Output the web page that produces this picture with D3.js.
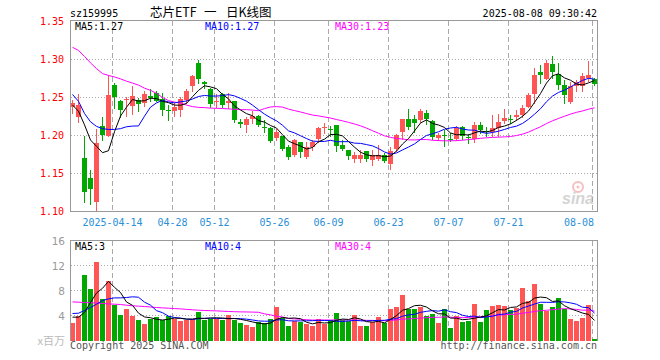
<!DOCTYPE html>
<html><head><meta charset="utf-8">
<script src="https://cdn.jsdelivr.net/npm/d3@7"></script>
<style>body{margin:0;background:#fff;} svg{display:block;}</style>
</head><body>
<svg id="c" width="660" height="360"></svg>
<script>
const dates = ["04-02","04-03","04-07","04-08","04-09","04-10","04-11","04-14","04-15","04-16","04-17","04-18","04-21","04-22","04-23","04-24","04-25","04-28","04-29","04-30",
"05-06","05-07","05-08","05-09","05-12","05-13","05-14","05-15","05-16","05-19","05-20","05-21","05-22","05-23","05-26","05-27","05-28","05-29","05-30",
"06-03","06-04","06-05","06-06","06-09","06-10","06-11","06-12","06-13","06-16","06-17","06-18","06-19","06-20","06-23","06-24","06-25","06-26","06-27","06-30",
"07-01","07-02","07-03","07-04","07-07","07-08","07-09","07-10","07-11","07-14","07-15","07-16","07-17","07-18","07-21","07-22","07-23","07-24","07-25","07-28","07-29","07-30","07-31",
"08-01","08-04","08-05","08-06","08-07","08-08"];
const open = [1.238,1.225,1.171,1.144,1.113,1.213,1.200,1.267,1.246,1.2475,1.239,1.247,1.243,1.252,1.256,1.248,1.2335,1.232,1.233,1.247,
1.265,1.296,1.271,1.261,1.245,1.254,1.243,1.246,1.218,1.214,1.222,1.226,1.2115,1.210,1.197,1.199,1.185,1.175,1.191,
1.172,1.185,1.195,1.2105,1.2088,1.214,1.188,1.181,1.169,1.169,1.179,1.168,1.169,1.175,1.162,1.182,1.204,1.222,1.222,1.221,
1.230,1.219,1.197,1.2002,1.1958,1.195,1.211,1.198,1.195,1.214,1.206,1.204,1.2097,1.219,1.2222,1.224,1.227,1.238,1.254,1.283,1.275,1.294,1.281,
1.266,1.244,1.2645,1.2645,1.2755,1.274];
const high = [1.247,1.254,1.200,1.155,1.208,1.225,1.279,1.269,1.247,1.251,1.265,1.249,1.258,1.261,1.258,1.256,1.240,1.243,1.251,1.261,
1.280,1.299,1.272,1.262,1.254,1.256,1.256,1.246,1.222,1.225,1.232,1.227,1.221,1.211,1.208,1.200,1.188,1.195,1.192,
1.192,1.194,1.211,1.217,1.213,1.214,1.194,1.181,1.178,1.181,1.179,1.181,1.188,1.177,1.185,1.202,1.222,1.235,1.227,1.235,
1.234,1.221,1.203,1.207,1.203,1.213,1.213,1.202,1.218,1.218,1.211,1.227,1.2285,1.235,1.227,1.234,1.240,1.256,1.289,1.293,1.300,1.305,1.296,
1.273,1.271,1.273,1.282,1.298,1.2755];
const low = [1.230,1.218,1.112,1.110,1.100,1.194,1.199,1.236,1.224,1.226,1.228,1.232,1.239,1.246,1.245,1.227,1.221,1.226,1.226,1.243,
1.259,1.269,1.262,1.237,1.238,1.237,1.236,1.218,1.211,1.205,1.217,1.213,1.205,1.192,1.194,1.181,1.169,1.173,1.172,
1.171,1.181,1.192,1.203,1.199,1.179,1.181,1.169,1.165,1.165,1.167,1.161,1.168,1.165,1.156,1.180,1.195,1.208,1.205,1.218,
1.215,1.195,1.194,1.186,1.193,1.194,1.196,1.190,1.191,1.203,1.199,1.199,1.199,1.216,1.216,1.221,1.225,1.238,1.243,1.269,1.274,1.2755,1.261,
1.243,1.243,1.258,1.258,1.272,1.267];
const close = [1.243,1.240,1.126,1.130,1.190,1.201,1.253,1.251,1.233,1.248,1.252,1.242,1.254,1.249,1.246,1.234,1.233,1.238,1.248,1.258,
1.278,1.275,1.268,1.241,1.246,1.240,1.246,1.221,1.215,1.222,1.226,1.214,1.211,1.193,1.205,1.182,1.172,1.194,1.178,
1.185,1.192,1.210,1.211,1.2084,1.186,1.182,1.173,1.174,1.175,1.169,1.175,1.175,1.166,1.180,1.201,1.222,1.211,1.216,1.232,
1.222,1.198,1.201,1.200,1.1955,1.210,1.200,1.1978,1.214,1.2075,1.204,1.2097,1.218,1.223,1.2218,1.227,1.236,1.253,1.280,1.280,1.296,1.284,1.266,
1.253,1.2645,1.271,1.278,1.280,1.268];
const volume = [2.82,3.94,10.45,8.2,12.58,6.6,9.5,5.65,4.05,5.0,3.94,3.25,2.6,3.4,3.78,3.36,3.89,3.52,3.14,3.25,
3.4,4.58,3.25,3.52,3.4,3.25,4.05,3.36,2.88,2.45,2.13,2.98,2.88,3.52,5.38,3.68,2.29,3.14,2.93,
2.61,2.34,3.41,2.72,3.25,4.42,3.36,3.09,4.05,2.29,2.29,2.98,3.73,2.82,5.0,5.38,7.25,5.12,5.12,5.33,
3.94,4.21,2.77,5.0,1.97,3.94,2.98,3.14,5.81,2.93,4.85,5.49,5.65,5.49,4.96,5.28,8.37,6.29,9.01,5.81,4.74,5.38,6.77,
5.12,3.41,3.09,3.57,5.65,0.32];
// moving-average values for days whose window reaches back before the first shown day
const ma5Head = [1.240,1.232,1.214,1.194];
const ma10Head = [1.254,1.245,1.229,1.218,1.212,1.209,1.208,1.208,1.209];
const ma30Head = [1.316,1.312,1.304,1.2955,1.288,1.2815,1.279,1.277,1.2745,1.2715,1.269,1.2663,1.2623,1.2594,1.2555,1.250,1.246,1.244,1.2426,1.240,1.238,1.237,1.2367,1.236,1.2358,1.2355,1.235,1.2345,1.234];
const volMa5Head = [3.73,3.73,4.48,6.08];
const volMa10Head = [4.32,4.37,4.8,5.28,5.81,6.4,6.66,6.82,6.82];
const volMa30Head = [6.18,6.13,6.08,6.04,6.0,5.93,5.86,5.81,5.76,5.65,5.55,5.5,5.44,5.36,5.28,5.22,5.17,5.11,5.06,4.98,4.91,4.85,4.8,4.77,4.74,4.69,4.64,4.61,4.58];
const priceTicks = [1.10,1.15,1.20,1.25,1.30,1.35];
const volTicks = [4,8,12,16];
const labelDates = ["04-14","04-28","05-12","05-26","06-09","06-23","07-07","07-21","08-08"];
const labelTexts = ["2025-04-14","04-28","05-12","05-26","06-09","06-23","07-07","07-21","08-08"];
const titleParts = ["芯片ETF", "一", "日K线图"];

const RED = "#ff5555", GREEN = "#00a800";
const svg = d3.select("#c");
const mono = "'DejaVu Sans Mono', monospace";

const x = d3.scaleBand().domain(dates).range([70, 598]).paddingInner(1/6).paddingOuter(1/12).align(0);
const bw = x.bandwidth();
const y = d3.scaleLinear().domain([1.10, 1.35]).range([211.5, 21.5]);
const yv = d3.scaleLinear().domain([0, 16]).range([340.5, 240.5]);

function movAvg(vals, n, head) {
  return vals.map((v, i) => i < n - 1 ? head[i] : d3.mean(vals.slice(i - n + 1, i + 1)));
}
const ma5 = movAvg(close, 5, ma5Head), ma10 = movAvg(close, 10, ma10Head), ma30 = movAvg(close, 30, ma30Head);
const vma5 = movAvg(volume, 5, volMa5Head), vma10 = movAvg(volume, 10, volMa10Head), vma30 = movAvg(volume, 30, volMa30Head);
const trunc = (v, d) => { const p = Math.pow(10, d); return (Math.floor(v * p + 1e-9) / p).toFixed(d); };

// header
svg.append("text").attr("x", 70).attr("y", 17).attr("font-family", mono).attr("font-size", 10).text("sz159995");
const tt = svg.append("text").attr("y", 17).attr("font-family", "'Noto Sans CJK SC'").attr("font-size", 12.5);
tt.append("tspan").attr("x", 150).text(titleParts[0]);
tt.append("tspan").attr("x", 204).text(titleParts[1]);
tt.append("tspan").attr("x", 226).text(titleParts[2]);
svg.append("text").attr("x", 597).attr("y", 17).attr("text-anchor", "end").attr("font-family", mono).attr("font-size", 10).text("2025-08-08 09:30:42");

svg.append("defs").html('<clipPath id="cp"><rect x="70" y="20" width="528" height="192"/></clipPath><clipPath id="cv"><rect x="70" y="240" width="528" height="101"/></clipPath>');

function panel(top, bottom, yTickVals, yScale) {
  const g = svg.append("g");
  g.selectAll(".h").data(yTickVals).join("line")
    .attr("x1", 71).attr("x2", 597).attr("y1", d => Math.round(yScale(d) - 0.5) + 0.5).attr("y2", d => Math.round(yScale(d) - 0.5) + 0.5)
    .attr("stroke", "#aaa").attr("stroke-dasharray", "1,2").attr("shape-rendering", "crispEdges");
  g.selectAll(".v").data(labelDates).join("line")
    .attr("x1", d => x(d) + 0.5).attr("x2", d => x(d) + 0.5).attr("y1", top).attr("y2", bottom)
    .attr("stroke", "#aaa").attr("stroke-dasharray", "5,3").attr("shape-rendering", "crispEdges");
  return g;
}
panel(20.5, 211.5, [1.15, 1.20, 1.25, 1.30], y);
panel(240.5, 340.5, [4, 8, 12], yv);

// candles
const cg = svg.append("g").attr("clip-path", "url(#cp)").attr("shape-rendering", "crispEdges");
dates.forEach((d, i) => {
  const col = close[i] >= open[i] ? RED : GREEN;
  const xc = x(d) + 2.5;
  cg.append("line").attr("x1", xc).attr("x2", xc).attr("y1", Math.round(y(high[i]))).attr("y2", Math.round(y(low[i])) + 1).attr("stroke", col);
  const t = Math.round(y(Math.max(open[i], close[i]))), b = Math.round(y(Math.min(open[i], close[i])));
  cg.append("rect").attr("x", x(d)).attr("width", bw).attr("y", t).attr("height", Math.max(1, b - t)).attr("fill", col);
});
// volume bars
const vg = svg.append("g").attr("shape-rendering", "crispEdges");
vg.selectAll("rect").data(dates).join("rect")
  .attr("x", d => x(d)).attr("width", bw)
  .attr("y", (d, i) => Math.round(yv(volume[i])))
  .attr("height", (d, i) => 341 - Math.round(yv(volume[i])))
  .attr("fill", (d, i) => close[i] >= open[i] ? RED : GREEN);

function maLine(vals, scale, color, clip) {
  const line = d3.line().x((v, i) => x(dates[i]) + 2.5).y(v => scale(v));
  svg.append("path").attr("d", line(vals)).attr("fill", "none").attr("stroke", color).attr("stroke-width", 1).attr("clip-path", clip);
}
maLine(ma30, y, "#ff00ff", "url(#cp)");
maLine(ma10, y, "#0000ff", "url(#cp)");
maLine(ma5, y, "#000000", "url(#cp)");
maLine(vma30, yv, "#ff00ff", "url(#cv)");
maLine(vma10, yv, "#0000ff", "url(#cv)");
maLine(vma5, yv, "#000000", "url(#cv)");

// borders
svg.append("path").attr("d", "M70.5,211.5V20.5H597.5V211.5H70.5").attr("fill", "none").attr("stroke", "#999").attr("shape-rendering", "crispEdges");
svg.append("path").attr("d", "M70.5,341V240.5H597.5V341").attr("fill", "none").attr("stroke", "#999").attr("shape-rendering", "crispEdges");

// axis labels
svg.selectAll(".pl").data(priceTicks).join("text")
  .attr("x", 64).attr("y", d => y(d) + 3.5).attr("text-anchor", "end")
  .attr("font-family", mono).attr("font-size", 10).attr("fill", "#ff0000").text(d => d.toFixed(2));
svg.selectAll(".vl").data(volTicks).join("text")
  .attr("x", 65).attr("y", d => yv(d) + 4).attr("text-anchor", "end")
  .attr("font-family", "'DejaVu Sans'").attr("font-size", 10.5).attr("fill", "#999").text(d => d);
svg.append("text").attr("x", 65).attr("y", 345).attr("text-anchor", "end").attr("font-family", "'Noto Sans CJK SC'").attr("font-size", 11).attr("fill", "#bbb").text("x百万");
svg.selectAll(".dl").data(labelDates).join("text")
  .attr("x", (d, i) => i === labelDates.length - 1 ? 594 : x(d) + 0.5)
  .attr("y", 225.5).attr("text-anchor", (d, i) => i === labelDates.length - 1 ? "end" : "middle")
  .attr("font-family", mono).attr("font-size", 10).attr("fill", "#2a8fd6").text((d, i) => labelTexts[i]);

// legends
const last = dates.length - 1;
function legend(yy, a, b, c, dgt) {
  svg.append("text").attr("x", 75).attr("y", yy).attr("font-family", mono).attr("font-size", 10).attr("fill", "#000").text("MA5:" + trunc(a, dgt));
  svg.append("text").attr("x", 205).attr("y", yy).attr("font-family", mono).attr("font-size", 10).attr("fill", "#0000ff").text("MA10:" + trunc(b, dgt));
  svg.append("text").attr("x", 335).attr("y", yy).attr("font-family", mono).attr("font-size", 10).attr("fill", "#ff00ff").text("MA30:" + trunc(c, dgt));
}
legend(29.5, ma5[last], ma10[last], ma30[last], 2);
legend(250, vma5[last], vma10[last], vma30[last], 0);

// footer
svg.append("text").attr("x", 70).attr("y", 349).attr("font-family", mono).attr("font-size", 10).attr("fill", "#555").text("Copyright 2025 SINA.COM");
svg.append("text").attr("x", 597).attr("y", 349).attr("text-anchor", "end").attr("font-family", mono).attr("font-size", 10).attr("fill", "#555").text("http://finance.sina.com.cn");

// sina watermark
const wm = svg.append("g").attr("opacity", 0.5);
wm.append("circle").attr("cx", 578).attr("cy", 187).attr("r", 5).attr("fill", "none").attr("stroke", "#f08080").attr("stroke-width", 2);
wm.append("circle").attr("cx", 578).attr("cy", 187).attr("r", 1.5).attr("fill", "#f08080");
wm.append("text").attr("x", 562).attr("y", 204).attr("font-family", "'Liberation Sans'").attr("font-style", "italic").attr("font-weight", "bold").attr("font-size", 16).attr("fill", "#aaa").text("sina");
</script>
</body></html>
